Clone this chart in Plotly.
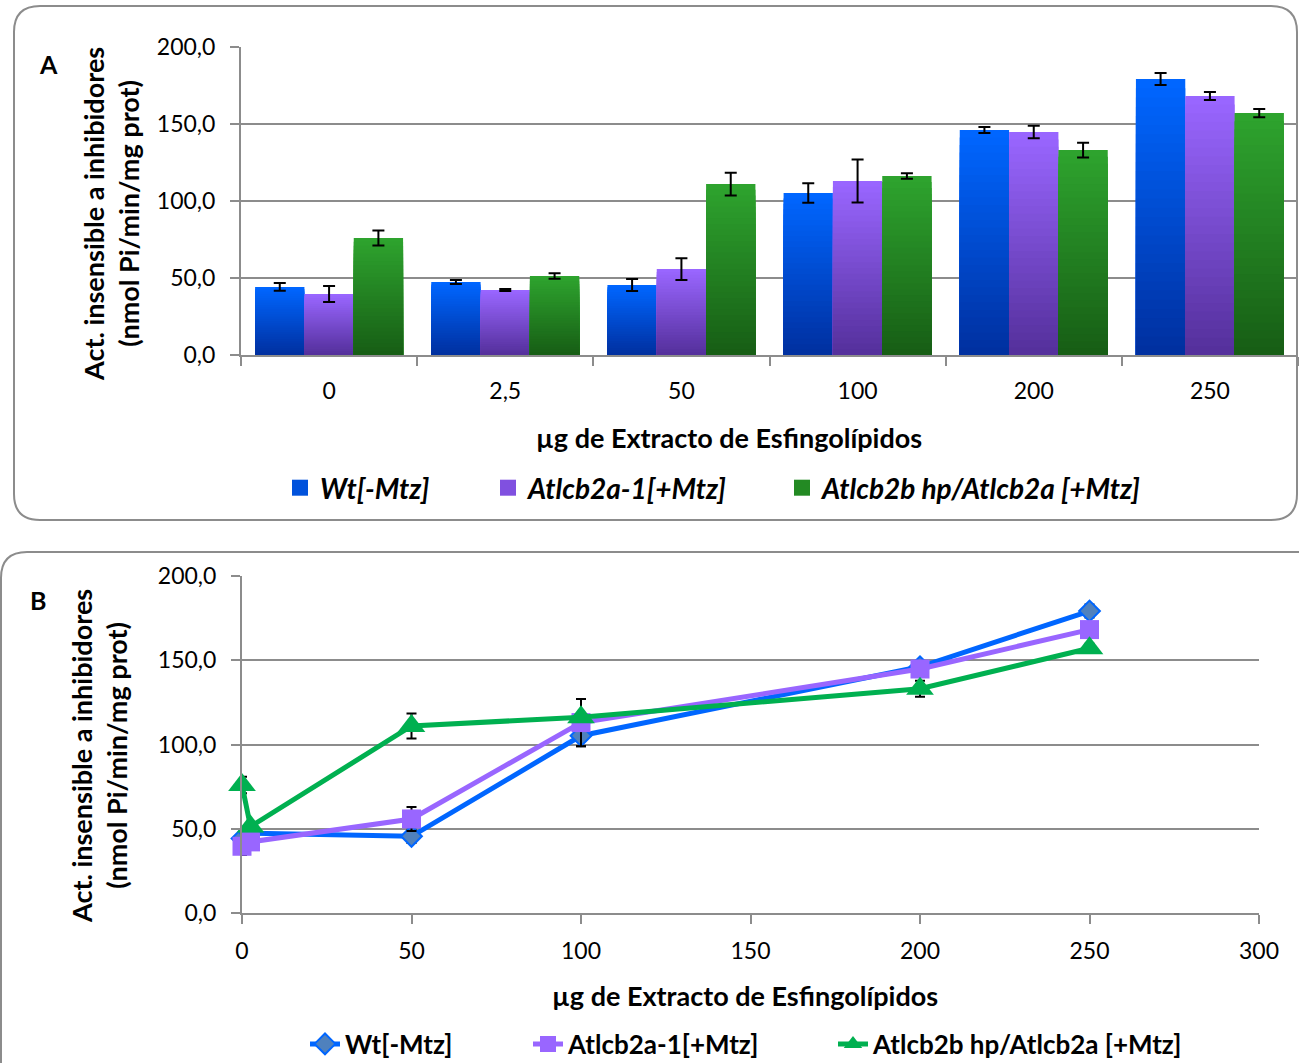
import plotly.graph_objects as go

# ---------------- data ----------------
categories = ["0", "2,5", "50", "100", "200", "250"]
x_numeric = [0, 2.5, 50, 100, 200, 250]
series_names = ["Wt[-Mtz]", "Atlcb2a-1[+Mtz]", "Atlcb2b hp/Atlcb2a [+Mtz]"]
wt_vals = [44.2, 47.4, 45.5, 105.2, 146.1, 179.2]
wt_err = [2.5, 1.3, 3.9, 6.3, 2.0, 3.9]
a1_vals = [39.6, 42.2, 55.8, 113.0, 144.8, 168.2]
a1_err = [5.2, 0.6, 7.1, 14.0, 4.1, 2.6]
hp_vals = [76.0, 51.3, 111.0, 116.2, 133.1, 157.1]
hp_err = [4.9, 1.8, 7.4, 1.8, 4.8, 2.7]

W, H = 1299, 1063
FONT = "Lato"
GRID = "#8c8c8c"


def px(x):
    return x / W


def py(y):
    return 1 - y / H


def hex2rgb(h):
    h = h.lstrip("#")
    return tuple(int(h[i:i + 2], 16) for i in (0, 2, 4))


def interp(c1, c2, t):
    a, b = hex2rgb(c1), hex2rgb(c2)
    return "rgb(%d,%d,%d)" % tuple(round(a[i] + (b[i] - a[i]) * t) for i in range(3))


fig = go.Figure()

# ---------------- panel A: gradient bars ----------------
vals = [wt_vals, a1_vals, hp_vals]
errs = [wt_err, a1_err, hp_err]
bar_top = ["#0066FF", "#9966FF", "#2EA32E"]
bar_bot = ["#0030A0", "#55309C", "#175E15"]
legend_col = ["#0052DC", "#8050E0", "#238A23"]
legA_names = ["legend", "legend3", "legend4"]
legB_names = ["legend2", "legend5", "legend6"]
bw = 0.28
offsets = [-bw, 0.0, bw]
N = 30
idx = list(range(len(categories)))
for s in range(3):
    xs = [i + offsets[s] for i in idx]
    for k in range(N):
        frac = 1 - k / N
        fig.add_trace(go.Bar(
            x=xs, y=[v * frac for v in vals[s]], width=bw,
            marker=dict(color=interp(bar_top[s], bar_bot[s], k / (N - 1)), line=dict(width=0)),
            xaxis="x", yaxis="y", showlegend=False, hoverinfo="skip",
        ))
    # legend proxy (square swatch)
    fig.add_trace(go.Scatter(
        x=[None], y=[None], name=series_names[s], mode="markers",
        marker=dict(symbol="square", size=16, color=legend_col[s], line=dict(width=0)),
        xaxis="x", yaxis="y", showlegend=True, legend=legA_names[s],
    ))
for s in range(3):
    xs = [i + offsets[s] for i in idx]
    fig.add_trace(go.Scatter(
        x=xs, y=vals[s], mode="markers", marker=dict(size=1, opacity=0),
        error_y=dict(type="data", array=errs[s], color="black", thickness=2, width=6),
        xaxis="x", yaxis="y", showlegend=False, hoverinfo="skip",
    ))

# ---------------- panel B: lines ----------------
line_cols = ["#0066FF", "#9966FF", "#00B050"]
marker_defs = [
    dict(symbol="diamond", size=16, color="#4F81BD", line=dict(color="#0066FF", width=2)),
    dict(symbol="square", size=19, color="#9966FF", line=dict(color="#9966FF", width=0)),
    dict(symbol="triangle-up", size=24, color="#00B050", line=dict(color="#00B050", width=0)),
]
for s in range(3):
    fig.add_trace(go.Scatter(
        x=x_numeric, y=vals[s], mode="lines+markers", name=series_names[s],
        line=dict(color=line_cols[s], width=5), marker=marker_defs[s],
        error_y=dict(type="data", array=errs[s], color="black", thickness=2, width=5),
        xaxis="x2", yaxis="y2", legend=legB_names[s], cliponaxis=False,
    ))

tickfont = dict(family=FONT, size=23, color="black")
axis_common = dict(showline=True, linecolor=GRID, linewidth=2, zeroline=False, automargin=False)

legA_font = dict(family=FONT, size=28, weight="bold", style="italic", color="black")
legB_font = dict(family=FONT, size=26, weight="bold", color="black")
# text-start x positions of each legend entry (reference pixels)
legA_text_x = [320, 528, 822]
legB_text_x = [345, 568, 873]

layout_legends = {}
for s in range(3):
    layout_legends[legA_names[s]] = dict(
        orientation="h", x=px(legA_text_x[s] - 40), y=py(488), xanchor="left",
        yanchor="middle", font=legA_font, bgcolor="rgba(0,0,0,0)")
    layout_legends[legB_names[s]] = dict(
        orientation="h", x=px(legB_text_x[s] - 40), y=py(1044), xanchor="left",
        yanchor="middle", font=legB_font, bgcolor="rgba(0,0,0,0)")

fig.update_layout(
    width=W, height=H, margin=dict(l=0, r=0, t=0, b=0, autoexpand=False),
    paper_bgcolor="white", plot_bgcolor="white",
    separators=",.",
    barmode="overlay",
    font=dict(family=FONT, color="black"),
    xaxis=dict(domain=[px(241), px(1298)], range=[-0.5, 5.5], anchor="y",
               tickvals=idx, ticktext=categories, ticks="", showgrid=False,
               tickfont=tickfont, ticklabelstandoff=14,
               minor=dict(tick0=0.5, dtick=1, ticks="outside", ticklen=9,
                          tickcolor=GRID, tickwidth=2, showgrid=False),
               **axis_common),
    yaxis=dict(domain=[py(355), py(47)], range=[0, 200], dtick=50, tickformat=".1f",
               anchor="x", ticks="outside", ticklen=9, tickcolor=GRID, tickwidth=2,
               showgrid=True, gridcolor=GRID, gridwidth=2, tickfont=tickfont,
               ticklabelstandoff=10, **axis_common),
    xaxis2=dict(domain=[px(242), px(1259)], range=[0, 300], dtick=50, anchor="y2",
                ticks="outside", ticklen=9, tickcolor=GRID, tickwidth=2, showgrid=False,
                tickfont=tickfont, ticklabelstandoff=7, **axis_common),
    yaxis2=dict(domain=[py(913), py(576)], range=[0, 200], dtick=50, tickformat=".1f",
                anchor="x2", ticks="outside", ticklen=9, tickcolor=GRID, tickwidth=2,
                showgrid=True, gridcolor=GRID, gridwidth=2, tickfont=tickfont,
                ticklabelstandoff=10, **axis_common),
    showlegend=True,
    **layout_legends,
)

# rounded panel borders
def rrect(x0, y0, x1, y1, r):
    return ("M {a},{b} L {c},{b} Q {x1},{b} {x1},{d} L {x1},{e} Q {x1},{y1} {c},{y1} "
            "L {a},{y1} Q {x0},{y1} {x0},{e} L {x0},{d} Q {x0},{b} {a},{b} Z").format(
        a=px(x0 + r), b=py(y0), c=px(x1 - r), d=py(y0 + r), e=py(y1 - r),
        x0=px(x0), x1=px(x1), y1=py(y1))

fig.add_shape(type="path", xref="paper", yref="paper", path=rrect(14, 6, 1297, 520, 26),
              line=dict(color="#8c8c8c", width=2), layer="below")
fig.add_shape(type="path", xref="paper", yref="paper", path=rrect(1, 552, 1330, 1100, 26),
              line=dict(color="#8c8c8c", width=2), layer="below")

title_font = dict(family=FONT, size=27, color="black", weight="bold")
label_font = dict(family=FONT, size=25, weight="bold", color="black")
ann = [
    dict(text="A", x=px(48), y=py(64), font=label_font),
    dict(text="B", x=px(38), y=py(600), font=label_font),
    dict(text="µg de Extracto de Esfingolípidos", x=px(729), y=py(437), font=title_font),
    dict(text="µg de Extracto de Esfingolípidos", x=px(745), y=py(995), font=title_font),
    dict(text="Act. insensible a inhibidores<br>(nmol Pi/min/mg prot)", x=px(111), y=py(214),
         textangle=-90, font=title_font),
    dict(text="Act. insensible a inhibidores<br>(nmol Pi/min/mg prot)", x=px(99), y=py(756),
         textangle=-90, font=title_font),
]
for a in ann:
    fig.add_annotation(xref="paper", yref="paper", showarrow=False, xanchor="center",
                       yanchor="middle", **a)

fig.write_html("out.html", config={"displayModeBar": False},
               post_script="document.body.style.margin='0';document.body.style.padding='0';")
